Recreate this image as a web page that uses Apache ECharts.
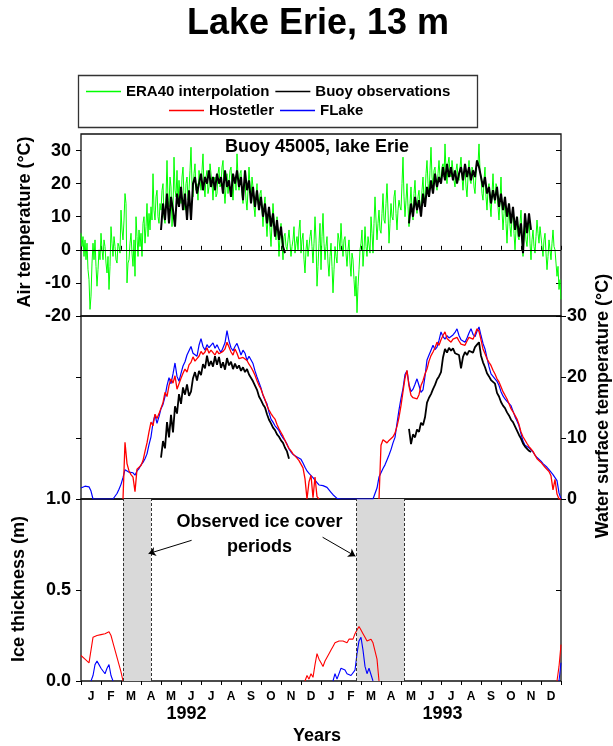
<!DOCTYPE html>
<html><head><meta charset="utf-8">
<script src="https://cdn.jsdelivr.net/npm/echarts@6/dist/echarts.min.js"></script>
<style>html,body{margin:0;padding:0;background:#fff}#c{width:613px;height:746px}</style>
</head><body><div id="c"></div>
<script>
// ---------- data (x = months since 1 Jan 1992) ----------
const STEP = 0.1;        // months between values (most series)
const ERA_STEP = 0.05;   // months between ERA40 values
const MONTH_LABELS = ['J','F','M','A','M','J','J','A','S','O','N','D','J','F','M','A','M','J','J','A','S','O','N','D'];
const YEAR_LABELS = ['1992','1993'];
const AIR_TICKS = [-20,-10,0,10,20,30];

// Air temperature, ERA40 interpolation (start 0.0, one row per month)
const ERA40_AIR = [
 5,1,4,-2,3,-3,2,-6,-9,-18,-14,-4,2,-3,3,-5,-11,-6,0,-3,
 5,0,-3,3,1,-4,-7,-2,-12,-5,7,2,-2,4,1,-3,-4,2,1,-1,
 12,6,3,9,17,14,-10,-4,-3,2,5,-1,-5,3,-8,10,4,-2,6,1,
 5,-2,8,10,2,7,14,4,11,6,13,9,23,12,9,16,18,10,8,14,
 12,18,20,10,8,16,27,15,13,22,19,7,12,28,18,16,24,14,21,17,
 14,22,25,16,12,20,22,15,18,24,31,20,16,23,26,18,20,15,24,21,
 18,24,29,19,16,22,24,17,19,26,26,20,15,21,22,16,17,23,25,19,
 20,25,27,18,14,19,23,17,17,24,25,19,15,21,22,18,29,22,18,23,
 24,17,14,20,21,15,12,18,25,19,15,22,19,13,10,16,20,14,13,17,
 18,12,7,13,16,9,4,10,12,6,1,8,14,9,6,3,10,5,-2,4,
 8,2,-3,4,5,1,0,3,6,2,-2,1,3,7,-1,2,4,0,6,9,
 -1,3,5,-3,-7,0,3,-2,-2,4,6,1,-4,2,10,3,-11,-5,2,8,
 -6,4,11,2,-3,1,4,-4,-8,-2,2,-5,-13,-6,1,-2,-4,5,3,0,
 8,2,-2,3,4,-1,-5,0,3,-4,-8,-1,-3,-9,-14,-8,-19,-11,-6,0,
 2,6,-5,0,7,1,-2,4,4,-1,10,5,-1,8,16,9,3,8,12,6,
 5,11,17,9,8,14,20,12,2,8,14,10,9,16,18,11,6,12,15,13,
 12,20,28,16,10,15,20,13,7,14,19,12,9,17,21,14,11,16,18,13,
 12,18,22,15,16,23,27,20,17,24,31,22,19,24,25,20,18,23,27,22,
 21,25,26,22,32,24,20,26,28,23,22,27,27,21,19,24,26,22,21,25,
 28,22,18,23,25,19,16,22,27,21,20,25,24,19,17,23,27,26,32,24,
 22,17,15,21,25,16,12,18,20,14,10,17,23,16,14,20,19,13,9,15,
 22,12,6,11,16,8,2,9,14,7,4,10,12,5,0,6,10,4,3,8,
 12,4,-2,5,8,3,1,6,10,2,-3,3,6,1,-1,4,9,5,2,7,
 7,1,-2,3,5,-1,-6,-2,3,0,-3,2,6,1,0,-4,-8,-5,-12,-9,
 -15
];
// Air temperature, buoy observations
const BUOY_AIR_1992 = [ // start 4.0
 6,14,9,17,8,16,12,7,17,13,
 19,12,17,9,18,9,20,22,17,20,
 23,18,22,20,24,19,22,18,23,20,
 22,17,24,19,21,16,23,20,24,19,
 22,15,24,18,21,14,19,13,18,12,
 16,10,14,8,13,7,11,4,9,3,
 7,1,-1
];
const BUOY_AIR_1993 = [ // start 16.4
 8,14,10,16,12,15,10,17,13,19,
 16,21,17,23,19,22,20,25,21,26,
 22,25,21,24,20,23,25,21,26,22,
 25,21,24,22,27,25,22,19,22,17,
 19,14,18,15,19,13,17,12,16,10,
 14,8,13,6,10,4,8,-1,11,5,
 11,6
];
// Water surface temperature
const FLAKE_WATER = [ // start 0.0
 1.8,2.0,2.1,2.1,2.0,1.3,0,0,0,0,
 0,0,0,0,0,0,0,0.2,0.9,1.6,
 2.4,3.5,4.8,4.6,4.4,4.7,4.3,3.9,4.6,5.0,
 5.6,6.0,6.6,7.4,8.9,10.2,12.5,13.8,12.4,13.5,
 14.8,15.5,16.8,18.6,19.9,18.9,20.5,22.3,20.1,19.3,
 20.6,21.8,22.5,23.6,24.3,25.0,23.9,24.1,23.4,25.2,
 26.3,25.0,24.4,25.3,24.8,25.1,25.6,24.7,25.3,24.6,
 24.0,24.8,25.6,27.6,25.9,24.8,24.3,25.0,25.5,24.6,
 23.6,24.4,23.9,22.7,23.4,23.6,22.2,21.0,20.0,19.1,
 18.2,17.0,16.2,15.6,14.2,13.1,12.6,12.0,11.6,11.2,
 10.5,10.0,9.6,9.0,8.2,7.7,7.3,7.1,6.9,6.7,
 6.5,5.9,5.2,4.6,4.2,3.9,3.5,3.2,2.7,2.3,
 2.0,2.2,2.3,1.9,1.5,1.1,0.7,0.4,0.1,0,
 0,0,0,0,0,0,0,0,0,0,
 0,0,0,0,0,0,0,0.3,1.8,3.6,
 4.3,5.0,5.6,6.4,7.2,8.1,9.2,10.1,12.4,14.6,
 16.5,18.1,20.4,21.0,18.8,17.6,18.0,18.8,19.7,18.6,
 17.5,17.9,20.1,22.8,23.6,24.4,25.2,24.5,24.9,26.0,
 27.4,26.6,26.2,26.8,26.4,26.5,26.9,27.3,27.9,26.8,
 26.1,25.8,25.7,26.4,27.2,27.9,27.0,26.6,27.5,28.2,
 26.8,25.5,24.6,23.1,21.7,20.5,20.1,19.8,19.3,18.6,
 17.6,16.9,16.4,16.0,15.7,15.3,14.4,13.5,12.8,12.0,
 10.7,9.5,8.8,8.6,8.4,8.2,7.7,7.2,6.8,6.5,
 6.2,5.8,5.5,5.2,4.8,4.4,4.0,3.5,3.0,1.0,
 0
];
const HOST_WATER_1992 = [ // start 2.1
 0,9.3,5.8,4.6,4.0,3.6,1.2,4.9,5.1,
 5.5,6.3,7.8,9.2,11.0,12.6,12.0,13.9,13.2,14.0,
 14.2,15.8,17.5,16.8,18.6,19.7,19.0,20.2,18.0,18.9,
 19.8,20.6,21.3,20.8,22.0,22.4,23.3,22.6,23.0,23.4,
 24.2,23.7,24.1,24.8,23.9,24.4,24.0,23.6,24.3,23.8,
 23.5,24.2,24.6,25.7,24.9,24.1,23.6,24.6,23.9,23.0,
 22.7,23.2,22.9,22.7,22.1,21.6,21.0,20.3,19.4,18.6,
 18.0,17.1,16.3,15.3,14.6,14.0,13.5,13.1,12.2,11.5,
 10.9,10.3,9.6,8.9,8.3,7.9,7.4,7.1,6.7,6.3,
 6.0,5.1,3.3,0,2.8,3.9,0.2,3.6,0.4,0
];
const HOST_WATER_1993 = [ // start 14.9
 0,8.8,9.7,9.9,9.2,9.6,9.3,10.2,10.8,11.9,
 13.4,15.3,17.6,19.8,21.1,18.5,17.0,16.6,16.9,16.4,
 17.1,18.6,19.4,20.5,21.3,22.6,23.5,24.1,24.8,25.7,
 25.2,26.1,26.8,27.4,26.3,26.0,25.7,26.2,26.0,26.5,
 25.9,25.4,25.6,25.2,25.9,26.5,26.8,26.2,27.0,27.9,
 27.5,26.1,24.6,23.8,23.0,22.4,21.9,21.1,20.5,19.7,
 19.2,18.4,17.6,17.0,16.4,15.6,14.8,14.3,13.7,13.1,
 12.2,11.0,10.2,9.9,9.1,8.6,8.2,7.8,7.2,6.6,
 6.4,6.0,5.6,5.2,4.9,4.5,3.8,1.5,3.2,0.8,
 0,0
];
const BUOY_WATER_1992 = [ // start 4.0
 6.8,9.5,8.3,12.6,10.1,13.8,10.9,15.2,14.0,17.2,
 15.6,18.3,17.1,18.8,16.9,17.6,19.8,20.8,19.4,21.0,
 20.3,22.1,21.4,23.5,21.8,22.6,21.7,23.4,22.0,23.3,
 21.5,22.4,21.2,23.1,21.9,22.5,21.3,22.2,21.4,21.9,
 21.0,21.6,20.8,21.3,20.4,20.3,19.3,18.6,17.9,16.8,
 16.2,15.5,15.0,13.9,13.0,12.4,11.7,11.3,10.6,10.2,
 9.6,9.2,8.4,7.8,6.6
];
const BUOY_WATER_1993 = [ // start 16.4
 11.5,9.0,10.6,10.1,11.4,11.0,12.5,12.1,13.4,15.8,
 16.6,17.2,18.0,18.7,19.6,20.1,20.8,23.2,24.6,24.0,
 24.8,24.3,24.7,23.9,24.2,23.6,21.4,23.3,24.1,23.6,
 24.3,24.6,24.0,24.9,25.3,25.7,23.5,22.4,21.6,20.6,
 20.1,19.5,19.4,18.9,17.4,16.8,15.9,15.3,14.9,14.2,
 13.7,13.0,12.6,12.3,11.2,10.5,9.9,9.1,8.6,8.3,
 7.9,7.7
];
// Ice thickness (m)
const HOST_ICE_1992 = [ // start 0.0
 0.14,0.13,0.12,0.12,0.10,0.17,0.24,0.25,0.25,0.25,
 0.255,0.25,0.26,0.265,0.27,0.25,0.21,0.17,0.13,0.09,
 0.05,0
];
const HOST_ICE_1993 = [ // start 11.2
 0,0.03,0.01,0.04,0.02,0.09,0.15,0.12,0.10,0.08,
 0.11,0.12,0.15,0.17,0.19,0.21,0.20,0.22,0.21,0.22,
 0.22,0.21,0.23,0.24,0.23,0.26,0.28,0.30,0.28,0.26,
 0.24,0.22,0.23,0.23,0.21,0.20,0.12,0
];
const HOST_ICE_1994 = [0,0.08,0.20]; // start 23.8
const FLAKE_ICE_1992 = [0,0.03,0.09,0.11,0.09,0.07,0.06,0.04,0.07,0.09,0.03,0]; // start 0.5
const FLAKE_ICE_1993 = [ // start 12.6
 0,0.04,0.01,0.02,0.07,0.08,0.06,0.04,0.05,0.03,
 0.04,0.06,0.15,0.22,0.24,0.17,0.08,0.04,0.07,0.06,0
];
const FLAKE_ICE_1994 = [0,0.1]; // start 23.9
const ICE_PERIODS = [[2.1,3.5],[13.78,16.17]];

// ---------- chart ----------
function seg(start, arr, step){ step = step || STEP; return arr.map((v,i)=>[Math.round((start+i*step)*1000)/1000, v]); }
const FONT = 'Liberation Sans, Arial, sans-serif';
const GREEN='#00ff00', RED='#ff0000', BLUE='#0000ff', BLACK='#000000';

function lineSeries(name, color, width, xi, yi, data, z){
  return {name, type:'line', xAxisIndex:xi, yAxisIndex:yi, data, showSymbol:false, symbol:'none',
    silent:true, color, lineStyle:{color, width}, z: z||2, connectNulls:false};
}
const gridBase = {left:81, width:480, show:true, borderColor:'#111', borderWidth:1.3, backgroundColor:'transparent'};
const noAxis = {axisLine:{show:false}, splitLine:{show:false}};
const tickLabel = {color:'#000', fontFamily:FONT, fontWeight:'bold', fontSize:18};
const legendText = {fontFamily:FONT, fontWeight:'bold', fontSize:15, color:'#000'};

const option = {
  animation:false,
  backgroundColor:'#fff',
  textStyle:{fontFamily:FONT},
  grid:[
    Object.assign({top:134, height:182}, gridBase),
    Object.assign({top:316, height:183}, gridBase),
    Object.assign({top:499, height:182}, gridBase)
  ],
  legend:[
    {data:['ERA40 interpolation','Buoy observations'], left:86, top:84, padding:0, itemGap:6, itemWidth:35, itemHeight:1.5,
     icon:'rect', selectedMode:false, textStyle:legendText},
    {data:['Hostetler','FLake'], left:169, top:103, padding:0, itemGap:6, itemWidth:35, itemHeight:1.5,
     icon:'rect', selectedMode:false, textStyle:legendText}
  ],
  xAxis:[
    Object.assign({gridIndex:0, type:'value', min:0, max:24, interval:1, position:'bottom',
      axisTick:{show:true, inside:true, length:4, lineStyle:{color:'#000', width:1}}, axisLabel:{show:false}}, noAxis),
    Object.assign({gridIndex:1, type:'value', min:0, max:24, interval:1,
      axisTick:{show:false}, axisLabel:{show:false}}, noAxis),
    Object.assign({gridIndex:2, type:'value', min:0, max:24, interval:1, position:'top',
      axisTick:{show:true, inside:true, length:4, lineStyle:{color:'#000', width:1}}, axisLabel:{show:false}}, noAxis),
    Object.assign({gridIndex:2, type:'category', data:MONTH_LABELS, boundaryGap:true, position:'bottom',
      axisTick:{show:true, inside:false, length:4, lineStyle:{color:'#000', width:1}},
      axisLabel:{show:true, interval:0, margin:10, color:'#000', fontFamily:FONT, fontWeight:'bold', fontSize:12}}, noAxis)
  ],
  yAxis:[
    Object.assign({gridIndex:0, type:'value', min:-20, max:35, position:'left',
      axisTick:{show:true, inside:false, length:5, customValues:AIR_TICKS, lineStyle:{color:'#000'}},
      axisLabel:Object.assign({show:true, margin:10, customValues:AIR_TICKS}, tickLabel)}, noAxis),
    Object.assign({gridIndex:0, type:'value', min:-20, max:35, position:'right',
      axisTick:{show:true, inside:true, length:5, customValues:AIR_TICKS, lineStyle:{color:'#000'}},
      axisLabel:{show:false}}, noAxis),
    Object.assign({gridIndex:1, type:'value', min:0, max:30, position:'left',
      axisTick:{show:true, inside:false, length:5, customValues:[10,20], lineStyle:{color:'#000'}},
      axisLabel:{show:false}}, noAxis),
    Object.assign({gridIndex:1, type:'value', min:0, max:30, interval:10, position:'right',
      axisTick:{show:true, inside:false, length:5, lineStyle:{color:'#000'}},
      axisLabel:Object.assign({show:true, margin:6}, tickLabel)}, noAxis),
    Object.assign({gridIndex:2, type:'value', min:0, max:1, interval:0.5, position:'left',
      axisTick:{show:true, inside:false, length:5, lineStyle:{color:'#000'}},
      axisLabel:Object.assign({show:true, margin:10, formatter:v=>v.toFixed(1)}, tickLabel)}, noAxis),
    Object.assign({gridIndex:2, type:'value', min:0, max:1, position:'right',
      axisTick:{show:true, inside:true, length:5, customValues:[0.5], lineStyle:{color:'#000'}},
      axisLabel:{show:false}}, noAxis)
  ],
  series:[
    // panel 1: air temperature
    lineSeries('ERA40 interpolation', GREEN, 1, 0, 0, seg(0, ERA40_AIR, ERA_STEP), 2),
    lineSeries('Buoy observations', BLACK, 2, 0, 0, seg(4.0, BUOY_AIR_1992), 3),
    lineSeries('Buoy observations', BLACK, 2, 0, 0, seg(16.4, BUOY_AIR_1993), 3),
    {type:'line', xAxisIndex:0, yAxisIndex:0, data:[], silent:true, z:4,
     markLine:{silent:true, symbol:'none', label:{show:false}, lineStyle:{color:'#000', width:1, type:'solid'},
       data:[{yAxis:0}]}},
    // panel 2: water surface temperature
    lineSeries('FLake', BLUE, 1.2, 1, 3, seg(0, FLAKE_WATER), 2),
    lineSeries('Hostetler', RED, 1.3, 1, 3, seg(2.1, HOST_WATER_1992), 3),
    lineSeries('Hostetler', RED, 1.3, 1, 3, seg(14.9, HOST_WATER_1993), 3),
    lineSeries('Buoy observations', BLACK, 1.8, 1, 3, seg(4.0, BUOY_WATER_1992), 4),
    lineSeries('Buoy observations', BLACK, 1.8, 1, 3, seg(16.4, BUOY_WATER_1993), 4),
    // panel 3: ice thickness
    {type:'line', xAxisIndex:2, yAxisIndex:4, data:[], silent:true, z:1,
     markArea:{silent:true, itemStyle:{color:'#d9d9d9'},
       data:ICE_PERIODS.map(p=>[{xAxis:p[0]},{xAxis:p[1]}])},
     markLine:{silent:true, symbol:'none', label:{show:false},
       lineStyle:{color:'#333', width:1, type:[3,2]},
       data:ICE_PERIODS.flat().map(v=>({xAxis:v}))}},
    lineSeries('Hostetler', RED, 1.1, 2, 4, seg(0, HOST_ICE_1992), 3),
    lineSeries('Hostetler', RED, 1.1, 2, 4, seg(11.2, HOST_ICE_1993), 3),
    lineSeries('Hostetler', RED, 1.1, 2, 4, seg(23.8, HOST_ICE_1994), 3),
    lineSeries('FLake', BLUE, 1.1, 2, 4, seg(0.5, FLAKE_ICE_1992), 4),
    lineSeries('FLake', BLUE, 1.1, 2, 4, seg(12.6, FLAKE_ICE_1993), 4),
    lineSeries('FLake', BLUE, 1.1, 2, 4, seg(23.9, FLAKE_ICE_1994), 4),
    {type:'line', xAxisIndex:2, yAxisIndex:4, data:[], silent:true, z:5,
     markLine:{silent:true, symbol:['none','arrow'], symbolSize:7, label:{show:false},
       lineStyle:{color:'#000', width:1, type:'solid'},
       data:[[{coord:[5.53,0.773]},{coord:[3.38,0.70]}],[{coord:[12.08,0.79]},{coord:[13.72,0.686]}]]}}
  ],
  graphic:[
    {type:'text', x:318, y:24.5, style:{text:'Lake Erie, 13 m', font:'bold 36px '+FONT, fill:'#000', align:'center', verticalAlign:'middle'}},
    {type:'rect', shape:{x:78.5, y:75.5, width:399, height:52}, style:{fill:'none', stroke:'#333', lineWidth:1.3}},
    {type:'text', x:317, y:147, style:{text:'Buoy 45005, lake Erie', font:'bold 18px '+FONT, fill:'#000', align:'center', verticalAlign:'middle'}},
    {type:'text', x:259.5, y:522, style:{text:'Observed ice cover', font:'bold 18px '+FONT, fill:'#000', align:'center', verticalAlign:'middle'}},
    {type:'text', x:259.5, y:547, style:{text:'periods', font:'bold 18px '+FONT, fill:'#000', align:'center', verticalAlign:'middle'}},
    {type:'text', x:186.5, y:714.5, style:{text:YEAR_LABELS[0], font:'bold 18px '+FONT, fill:'#000', align:'center', verticalAlign:'middle'}},
    {type:'text', x:442.5, y:714.5, style:{text:YEAR_LABELS[1], font:'bold 18px '+FONT, fill:'#000', align:'center', verticalAlign:'middle'}},
    {type:'text', x:317, y:736, style:{text:'Years', font:'bold 18px '+FONT, fill:'#000', align:'center', verticalAlign:'middle'}},
    {type:'text', x:25, y:222, rotation:Math.PI/2, style:{text:'Air temperature (°C)', font:'bold 18px '+FONT, fill:'#000', align:'center', verticalAlign:'middle'}},
    {type:'text', x:19, y:589, rotation:Math.PI/2, style:{text:'Ice thickness (m)', font:'bold 18px '+FONT, fill:'#000', align:'center', verticalAlign:'middle'}},
    {type:'text', x:603, y:406, rotation:Math.PI/2, style:{text:'Water surface temperature (°C)', font:'bold 18px '+FONT, fill:'#000', align:'center', verticalAlign:'middle'}}
  ]
};
const chart = echarts.init(document.getElementById('c'), null, {renderer:'canvas'});
chart.setOption(option);
</script>
</body></html>
